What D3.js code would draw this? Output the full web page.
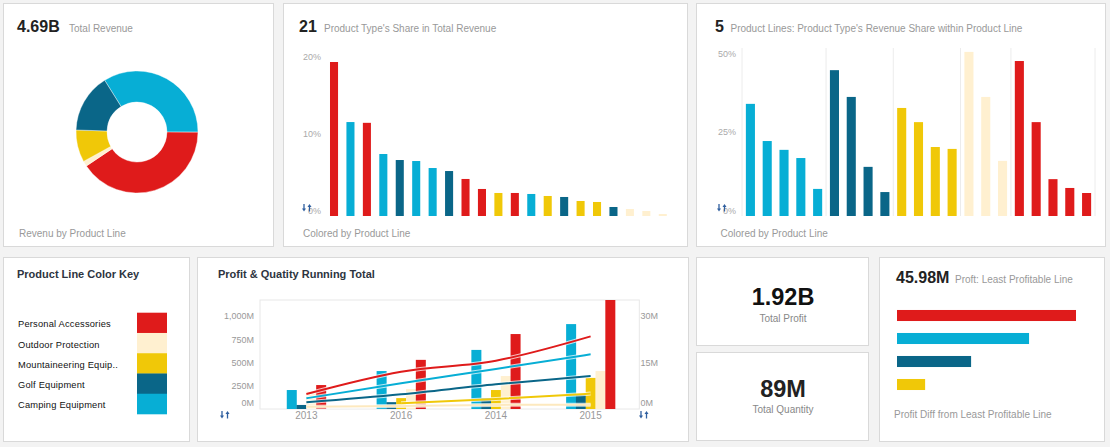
<!DOCTYPE html>
<html><head><meta charset="utf-8">
<script src="https://cdn.jsdelivr.net/npm/d3@7"></script>
<style>
body{margin:0;background:#f3f3f3;}
svg{display:block;font-family:"Liberation Sans",Arial,sans-serif;}
</style></head>
<body>
<script>
// ---------- DATA ----------
const lineKeys = ["camping","golf","mountain","outdoor","personal"];
const lineNames = {camping:"Camping Equipment",golf:"Golf Equipment",mountain:"Mountaineering Equip..",outdoor:"Outdoor Protection",personal:"Personal Accessories"};
const lineColors = {camping:"#07aed5",golf:"#0a6688",mountain:"#f0c808",outdoor:"#fff0d0",personal:"#df1b1b"};

// donut: revenue (B) by product line, in drawing order
const donutLines = ["camping","personal","outdoor","mountain","golf"];
const donutRevenue = [1.59,1.90,0.066,0.40,0.73];

// panel 2: product type share in total revenue (%)
const typesAll = ["Eyewear","Tents","Watches","Sleeping Bags","Irons","Cooking Gear","Packs","Woods","Knives","Binoculars","Climbing Accessories","Navigation","Lanterns","Rope","Putters","Safety","Tools","Golf Accessories","First Aid","Sunscreen","Insect Repellents"];
const typesAllLine = ["personal","camping","personal","camping","golf","camping","camping","golf","personal","personal","mountain","personal","camping","mountain","golf","mountain","mountain","golf","outdoor","outdoor","outdoor"];
const typesAllShare = [20.0,12.2,12.1,8.05,7.27,7.14,6.23,5.84,4.81,3.51,2.99,2.99,2.86,2.6,2.47,1.95,1.82,1.17,0.91,0.65,0.26];

// panel 3: share within product line (%)
const typesWithin = ["Tents","Sleeping Bags","Cooking Gear","Packs","Lanterns","Irons","Woods","Putters","Golf Accessories","Climbing Accessories","Rope","Safety","Tools","First Aid","Sunscreen","Insect Repellents","Eyewear","Watches","Knives","Binoculars","Navigation"];
const typesWithinLine = ["camping","camping","camping","camping","camping","golf","golf","golf","golf","mountain","mountain","mountain","mountain","outdoor","outdoor","outdoor","personal","personal","personal","personal","personal"];
const typesWithinShare = [35.6,23.8,21.0,18.4,8.6,46.3,37.8,15.6,7.6,34.3,29.8,21.9,21.3,52.1,37.8,17.5,49.2,29.8,11.7,8.9,7.3];

// legend order
const legendLines = ["personal","outdoor","mountain","golf","camping"];

// panel 5: running totals by year
const years = ["2013","2016","2014","2015"];
const qtyCamping = [6.1,12.2,19.0,27.3];
const qtyGolf = [1.3,2.2,3.5,4.8];
const qtyMountain = [null,3.5,6.1,10.0];
const qtyOutdoor = [5.6,6.4,10.6,12.2];
const qtyPersonal = [7.7,15.8,24.1,35.5];
const profitCamping = [115,276,429,586];
const profitGolf = [72,158,265,353];
const profitMountain = [null,61,107,165];
const profitOutdoor = [25,32,44,46];
const profitPersonal = [161,400,518,778];
const leftTicks = [0,250,500,750,1000];
const rightTicks = [0,15,30];

// panel 8: profit by line (M)
const profitLines = ["personal","camping","golf","mountain","outdoor"];
const profitByLine = [778,586,349,161,45.98];

// ---------- DRAW ----------
const FONT = "'Liberation Sans',Arial,sans-serif";
const svg = d3.select("body").append("svg").attr("width",1110).attr("height",447);

const panels = [[3.5,3.5,270,243],[283.5,3.5,404,243],[696.5,3.5,409,243],[3.5,257.5,186,184],[197.5,257.5,491,184],[696.5,257.5,172,88],[696.5,352.5,172,88],[879.5,257.5,225,184]];
svg.selectAll("rect.panel").data(panels).join("rect").attr("class","panel")
  .attr("x",d=>d[0]).attr("y",d=>d[1]).attr("width",d=>d[2]).attr("height",d=>d[3])
  .attr("fill","#fff").attr("stroke","#d9d9d9");

function txt(x,y,s,size,fill,weight,anchor){
  return svg.append("text").attr("x",x).attr("y",y).text(s).attr("font-size",size)
    .attr("fill",fill).attr("font-weight",weight||"normal").attr("text-anchor",anchor||"start");
}
function arrows(x,y){
  const g = svg.append("g").attr("transform",`translate(${x},${y})`).attr("fill","#2f5f9f").attr("stroke","#2f5f9f");
  g.append("line").attr("x1",2).attr("x2",2).attr("y1",0).attr("y2",5).attr("stroke-width",1.3);
  g.append("path").attr("d","M0,4.5L4,4.5L2,7.5Z").attr("stroke","none");
  g.append("line").attr("x1",7.5).attr("x2",7.5).attr("y1",2.5).attr("y2",7.5).attr("stroke-width",1.3);
  g.append("path").attr("d","M5.5,3L9.5,3L7.5,0Z").attr("stroke","none");
}

// Panel 1 donut
txt(17,32,"4.69B",16,"#222","bold");
txt(69,32,"Total Revenue",10,"#999");
txt(19,237,"Revenu by Product Line",10,"#999");
const pie = d3.pie().sort(null).value(d=>d.v).startAngle(-32*Math.PI/180).endAngle(-32*Math.PI/180+2*Math.PI);
const arc = d3.arc().innerRadius(30).outerRadius(61);
svg.append("g").attr("transform","translate(137,132)")
  .selectAll("path").data(pie(donutLines.map((k,i)=>({k,v:donutRevenue[i]})))).join("path")
  .attr("d",arc).attr("fill",d=>lineColors[d.data.k]).attr("stroke","#fff").attr("stroke-width",0.4);

// Panel 2
txt(299,32,"21",16,"#222","bold");
txt(324,32,"Product Type's Share in Total Revenue",10,"#999");
txt(303,237,"Colored by Product Line",10,"#999");
{
  const x = d3.scaleBand().domain(typesAll).range([325.8,671]).paddingInner(0.51).paddingOuter(0.255);
  const y = d3.scaleLinear().domain([0,20]).range([216,62]);
  svg.append("g").selectAll("rect").data(typesAll).join("rect")
    .attr("x",d=>x(d)).attr("width",x.bandwidth())
    .attr("y",(d,i)=>y(typesAllShare[i])).attr("height",(d,i)=>y(0)-y(typesAllShare[i]))
    .attr("fill",(d,i)=>lineColors[typesAllLine[i]]);
  const ax = svg.append("g").attr("transform","translate(321,0)")
    .call(d3.axisLeft(y).tickValues([0,10,20]).tickFormat(d=>d+"%").tickSize(0).tickPadding(0));
  ax.select(".domain").remove();
  ax.selectAll("text").attr("font-size",9).attr("fill","#aaa").attr("font-family",FONT).attr("dy",-2.4);
  arrows(302,204);
}

// Panel 3
txt(715,32,"5",16,"#222","bold");
txt(730.5,32,"Product Lines: Product Type's Revenue Share within Product Line",10,"#999");
txt(720.5,237,"Colored by Product Line",10,"#999");
{
  const x = d3.scaleBand().domain(typesWithin).range([742,1095]).paddingInner(0.46).paddingOuter(0.23);
  const y = d3.scaleLinear().domain([0,50]).range([216,58.5]);
  const gap = (x.step()-x.bandwidth())/2;
  const seps = [];
  lineKeys.forEach(k=>{const i = typesWithinLine.indexOf(k); seps.push(x(typesWithin[i])-gap);});
  seps.push(x(typesWithin[typesWithin.length-1])+x.bandwidth()+gap);
  svg.append("g").selectAll("line").data(seps).join("line")
    .attr("x1",d=>d).attr("x2",d=>d).attr("y1",48).attr("y2",216).attr("stroke","#ececec");
  svg.append("g").selectAll("rect").data(typesWithin).join("rect")
    .attr("x",d=>x(d)).attr("width",x.bandwidth())
    .attr("y",(d,i)=>y(typesWithinShare[i])).attr("height",(d,i)=>y(0)-y(typesWithinShare[i]))
    .attr("fill",(d,i)=>lineColors[typesWithinLine[i]]);
  const ax = svg.append("g").attr("transform","translate(736,0)")
    .call(d3.axisLeft(y).tickValues([0,25,50]).tickFormat(d=>d+"%").tickSize(0).tickPadding(0));
  ax.select(".domain").remove();
  ax.selectAll("text").attr("font-size",9).attr("fill","#aaa").attr("font-family",FONT).attr("dy",-2.4);
  arrows(717,204);
}

// Panel 4 legend
txt(17,278,"Product Line Color Key",11,"#2d3440","bold");
{
  const y = d3.scaleBand().domain(legendLines).range([312.7,414]);
  const g = svg.append("g");
  g.selectAll("rect").data(legendLines).join("rect")
    .attr("x",137).attr("width",30).attr("y",d=>y(d)).attr("height",y.bandwidth()+0.3)
    .attr("fill",d=>lineColors[d]);
  g.selectAll("text").data(legendLines).join("text")
    .attr("x",18).attr("y",d=>y(d)+y.bandwidth()/2+4.5).text(d=>lineNames[d])
    .attr("font-size",9.3).attr("fill","#111").attr("letter-spacing",0.2);
}

// Panel 5 combo
txt(218,278,"Profit & Quatity Running Total",11,"#2d3440","bold");
{
  const left=260, right=639.3, top=300, bottom=409;
  svg.append("rect").attr("x",left).attr("y",top).attr("width",right-left).attr("height",bottom-top)
    .attr("fill","none").attr("stroke","#e8e8e8");
  const x0 = d3.scaleBand().domain(years).range([259,638]);
  const yL = d3.scaleLinear().domain([0,1000]).range([409,315.7]);
  const yR = d3.scaleLinear().domain([0,30]).range([409,315.7]);
  svg.append("clipPath").attr("id","plotclip").append("rect")
    .attr("x",left).attr("y",top).attr("width",right-left).attr("height",bottom-top);
  const qty = {camping:qtyCamping,golf:qtyGolf,mountain:qtyMountain,outdoor:qtyOutdoor,personal:qtyPersonal};
  const prof = {camping:profitCamping,golf:profitGolf,mountain:profitMountain,outdoor:profitOutdoor,personal:profitPersonal};
  const bw = 9.8;
  const bars = [];
  years.forEach((yr,i)=>{
    const present = lineKeys.filter(k=>qty[k][i]!=null);
    const x1 = d3.scaleBand().domain(present).range([-present.length*bw/2, present.length*bw/2]);
    present.forEach(k=>bars.push({yr,k,v:qty[k][i],x:x0(yr)+x0.bandwidth()/2+x1(k),w:x1.bandwidth()}));
  });
  const gb = svg.append("g").attr("clip-path","url(#plotclip)");
  gb.selectAll("rect").data(bars).join("rect")
    .attr("x",d=>d.x).attr("width",d=>d.w+0.2).attr("y",d=>yR(d.v)).attr("height",d=>yR(0)-yR(d.v))
    .attr("fill",d=>lineColors[d.k]);
  const line = d3.line().defined(d=>d.v!=null).x(d=>x0(d.yr)+x0.bandwidth()/2).y(d=>yL(d.v)).curve(d3.curveMonotoneX);
  const order = ["outdoor","mountain","golf","camping","personal"];
  order.forEach(k=>{
    const data = years.map((yr,i)=>({yr,v:prof[k][i]}));
    gb.append("path").attr("d",line(data)).attr("fill","none").attr("stroke","#fff").attr("stroke-opacity",0.7).attr("stroke-width",4);
    gb.append("path").attr("d",line(data)).attr("fill","none").attr("stroke",k==="outdoor"?"#fde9bf":lineColors[k]).attr("stroke-width",2);
  });
  const axL = svg.append("g").attr("transform","translate(254,0)")
    .call(d3.axisLeft(yL).tickValues(leftTicks).tickFormat(d=>d3.format(",")(d)+"M").tickSize(0).tickPadding(0));
  axL.select(".domain").remove();
  axL.selectAll("text").attr("font-size",9).attr("fill","#999").attr("font-family",FONT)
    .attr("dy",d=>d===0?-4:3);
  const axR = svg.append("g").attr("transform","translate(640.5,0)")
    .call(d3.axisRight(yR).tickValues(rightTicks).tickFormat(d=>d+"M").tickSize(0).tickPadding(0));
  axR.select(".domain").remove();
  axR.selectAll("text").attr("font-size",9).attr("fill","#999").attr("font-family",FONT)
    .attr("dy",d=>d===0?-4:3);
  const axX = svg.append("g").attr("transform","translate(0,409)")
    .call(d3.axisBottom(x0).tickSize(0).tickPadding(0));
  axX.select(".domain").remove();
  axX.selectAll("text").attr("font-size",10).attr("fill","#999").attr("font-family",FONT).attr("dy",10.3);
  arrows(220,411);
  arrows(639,411);
}

// Panel 6 / 7 KPIs
txt(783,305,"1.92B",23.5,"#111","bold","middle");
txt(783,322,"Total Profit",10,"#888","normal","middle");
txt(783,397,"89M",23.5,"#222","bold","middle");
txt(783,413,"Total Quantity",10,"#888","normal","middle");

// Panel 8
txt(896,283,"45.98M",16,"#222","bold");
txt(955,283,"Proft: Least Profitable Line",10,"#999");
txt(894,418,"Profit Diff from Least Profitable Line",10,"#999");
{
  const minP = d3.min(profitByLine);
  const y = d3.scaleBand().domain(profitLines).range([304,419]).paddingInner(0.52).paddingOuter(0.26);
  const x = d3.scaleLinear().domain([0,732]).range([897,1076]);
  svg.append("g").selectAll("rect").data(profitLines).join("rect")
    .attr("x",x(0)).attr("y",d=>y(d)).attr("height",y.bandwidth())
    .attr("width",(d,i)=>x(profitByLine[i]-minP)-x(0))
    .attr("fill",d=>lineColors[d]);
}
</script>
</body></html>
